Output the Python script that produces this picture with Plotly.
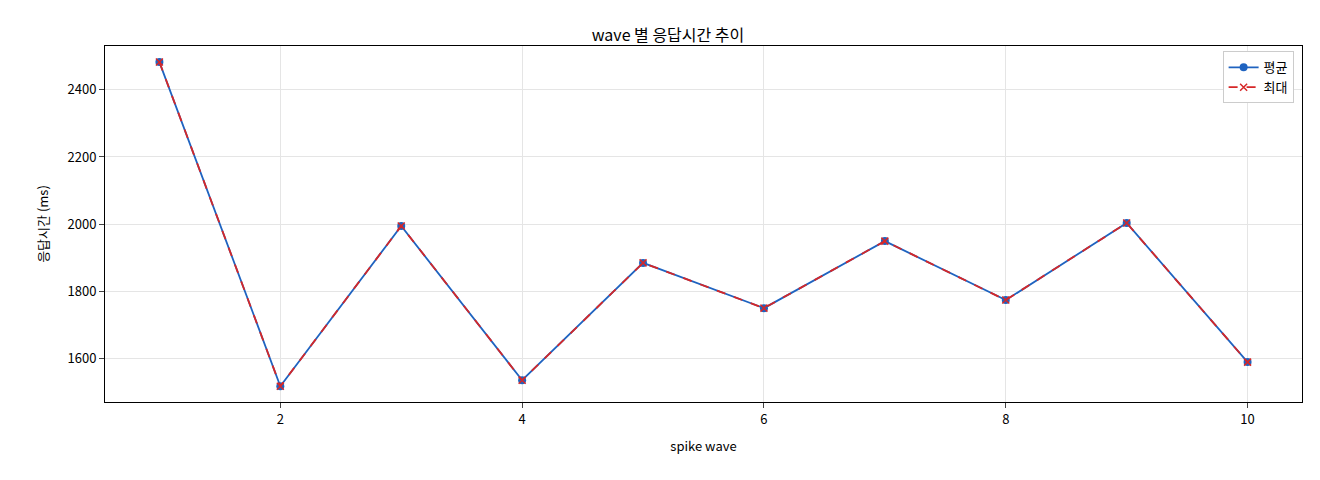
import plotly.graph_objects as go

waves = [1, 2, 3, 4, 5, 6, 7, 8, 9, 10]
avg_ms = [2483, 1516, 1994, 1534, 1884, 1749, 1949, 1773, 2003, 1588]
max_ms = [2483, 1516, 1994, 1534, 1884, 1749, 1949, 1773, 2003, 1588]

fig = go.Figure()
fig.add_trace(go.Scatter(x=waves, y=avg_ms, name="평균", mode="lines+markers",
                         line=dict(color="#1f63c0", width=1.8),
                         marker=dict(symbol="circle", size=8, color="#1f63c0")))
fig.add_trace(go.Scatter(x=waves, y=max_ms, name="최대", mode="lines+markers",
                         line=dict(color="#d62728", width=1.8, dash="dash"),
                         marker=dict(symbol="x-thin", size=7, line=dict(color="#d62728", width=1.5))))

axis_style = dict(showline=True, linecolor="black", mirror=True, ticks="outside",
                  showgrid=True, gridcolor="#e5e5e5", zeroline=False,
                  tickfont=dict(size=13, color="black"))
fig.update_layout(
    width=1320, height=480,
    font=dict(family="Noto Sans CJK KR", size=13, color="black"),
    title=dict(text="wave 별 응답시간 추이", x=0.5, xanchor="center", y=0.955, font=dict(size=16)),
    plot_bgcolor="white", paper_bgcolor="white",
    margin=dict(l=97, r=26, t=38, b=86),
    xaxis=dict(title=dict(text="spike wave", font=dict(size=13)), range=[0.55, 10.45],
               tickvals=[2, 4, 6, 8, 10], **axis_style),
    yaxis=dict(title=dict(text="응답시간 (ms)", font=dict(size=13)), range=[1469, 2531],
               tickvals=[1600, 1800, 2000, 2200, 2400], **axis_style),
    legend=dict(x=0.993, y=0.985, xanchor="right", yanchor="top", bgcolor="white",
                bordercolor="#cccccc", borderwidth=1),
    showlegend=True,
)
fig.write_html("out.html")
